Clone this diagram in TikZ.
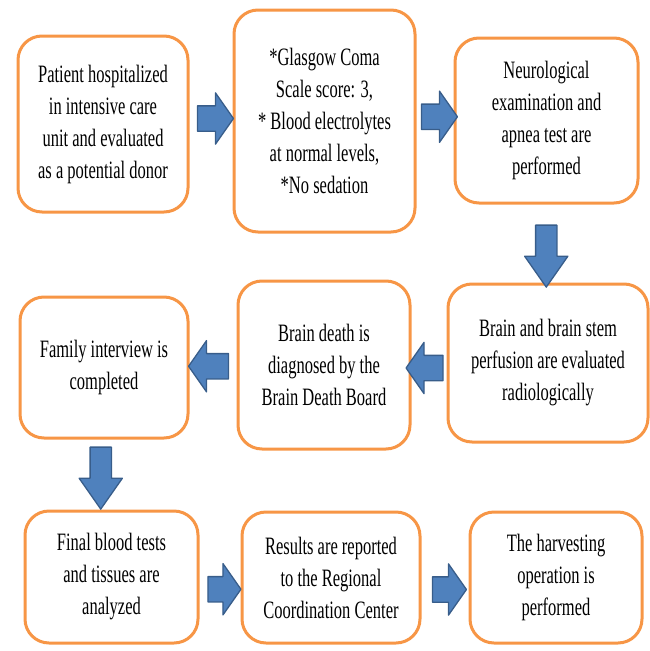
\documentclass[tikz,border=0pt]{standalone}
\usepackage{fontspec}
\setmainfont[FakeStretch=0.66]{Liberation Serif}
\usetikzlibrary{shapes.arrows,calc}
\definecolor{boxorange}{RGB}{247,150,70}
\definecolor{arrowfill}{RGB}{79,129,189}
\definecolor{arrowline}{RGB}{56,93,138}
\tikzset{
  stepbox/.style={draw=boxorange, line width=3pt, rounded corners=24pt, fill=white,
    align=center, inner sep=0pt, font=\fontsize{25}{32}\selectfont},
  flowarrow/.style={single arrow, draw=arrowline, fill=arrowfill, line width=1.3pt,
    inner xsep=0pt, inner ysep=12pt, single arrow head extend=13pt,
    single arrow tip angle=110, minimum height=36pt},
  downarrow/.style={flowarrow, rotate=-90, inner ysep=10pt,
    single arrow head extend=11pt, single arrow tip angle=70, minimum height=62pt}
}
\begin{document}
\begin{tikzpicture}[line cap=round,line join=round,x=1pt,y=-1pt]
\useasboundingbox (0,0) rectangle (650,651);
% first row
\node[stepbox, minimum width=170pt, minimum height=176pt] (patient) at (103,124)
  {Patient hospitalized\\in intensive care\\unit and evaluated\\as a potential donor};
\node[stepbox, minimum width=181pt, minimum height=222pt] (criteria) at (324.5,121)
  {*Glasgow Coma\\Scale score: 3,\\* Blood electrolytes\\at normal levels,\\*No sedation};
\node[stepbox, minimum width=183pt, minimum height=165pt] (neuro) at (546.5,120.5)
  {Neurological\\examination and\\apnea test are\\performed};

% second row
\node[stepbox, minimum width=200pt, minimum height=158pt] (perfusion) at (548,363)
  {Brain and brain stem\\perfusion are evaluated\\radiologically};
\node[stepbox, minimum width=172pt, minimum height=168pt] (board) at (324,365)
  {Brain death is\\diagnosed by the\\Brain Death Board};
\node[stepbox, minimum width=168pt, minimum height=141pt] (family) at (104,367.5)
  {Family interview is\\completed};

% third row
\node[stepbox, minimum width=173pt, minimum height=132pt] (tests) at (111.5,577)
  {Final blood tests\\and tissues are\\analyzed};
\node[stepbox, minimum width=178pt, minimum height=131pt] (report) at (331,577.5)
  {Results are reported\\to the Regional\\Coordination Center};
\node[stepbox, minimum width=172pt, minimum height=131pt] (harvest) at (556,577.5)
  {The harvesting\\operation is\\performed};

% block arrows
\node[flowarrow] (a1) at ($(patient.east)!0.5!(criteria.west)+(0,-4)$) {};
\node[flowarrow] (a2) at ($(criteria.east)!0.5!(neuro.west)+(0,-4)$) {};
\node[downarrow] (a3) at ($(neuro.south)!0.5!(perfusion.north)+(-1,5)$) {};
\node[flowarrow, rotate=180, minimum height=37pt] (a4) at ($(perfusion.west)!0.5!(board.east)+(0,4)$) {};
\node[flowarrow, rotate=180, minimum height=40pt] (a5) at ($(board.west)!0.5!(family.east)$) {};
\node[downarrow] (a6) at ($(family.south)!0.5!(tests.north)+(-7,-4)$) {};
\node[flowarrow, minimum height=33pt] (a7) at ($(tests.east)!0.5!(report.west)+(0,12)$) {};
\node[flowarrow, minimum height=34pt] (a8) at ($(report.east)!0.5!(harvest.west)+(0,12)$) {};
\end{tikzpicture}
\end{document}
